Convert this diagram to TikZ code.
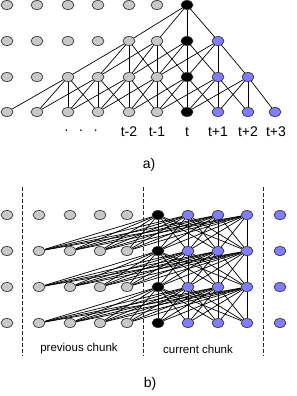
\documentclass[tikz,border=0pt]{standalone}
\usepackage{fontspec}
\setmainfont{Liberation Sans}
\usetikzlibrary{shapes.geometric}
\definecolor{ngray}{HTML}{C8C8C8}
\definecolor{nblue}{HTML}{7F7FFF}
\pgfdeclarelayer{bg}
\pgfsetlayers{bg,main}
\begin{document}
\begin{tikzpicture}[x=1pt,y=-1pt,
  nd/.style={ellipse, draw=black!85, line width=0.6pt, minimum width=12pt, minimum height=9pt, inner sep=0pt},
  edge/.style={draw=black, line width=0.7pt},
  sep/.style={draw=black!85, line width=0.8pt, dash pattern=on 4pt off 2pt},
  lbl/.style={font=\fontsize{14}{16}\selectfont, inner sep=0pt},
  chunklbl/.style={font=\fontsize{11.5}{13}\selectfont, inner sep=0pt}]
\useasboundingbox (0,0) rectangle (297,396);

% ---------- part a) ----------
\foreach \j/\y/\n in {1/5/6, 2/41/7, 3/77/8, 4/112/9} {
  \foreach \i/\x in {0/7,1/37,2/68,3/98,4/129,5/157,6/187,7/218,8/248,9/275} {
    \ifnum\i>\n\relax\else
      \ifnum\i<6 \def\f{ngray}\else\ifnum\i=6 \def\f{black}\else\def\f{nblue}\fi\fi
      \node[nd, fill=\f] (a\i-\j) at (\x,\y) {};
    \fi
  }
}
\begin{pgfonlayer}{bg}
\foreach \j/\lo/\hi in {1/6/6, 2/4/7, 3/2/8} {
  \pgfmathtruncatemacro\k{\j+1}
  \foreach \i in {\lo,...,\hi} {
    \foreach \d in {-2,-1,0,1} {
      \pgfmathtruncatemacro\t{\i+\d}
      \draw[edge] (a\i-\j) -- (a\t-\k);
    }
  }
}
\end{pgfonlayer}

\node[lbl] (ldots) at (81,132) {·\hspace{10pt}·\hspace{10pt}·};
\node[lbl] (lm2) at (129,132) {t-2};
\node[lbl] (lm1) at (157,132) {t-1};
\node[lbl] (l0) at (187,132) {t};
\node[lbl] (lp1) at (218,132) {t+1};
\node[lbl] (lp2) at (248,132) {t+2};
\node[lbl] (lp3) at (276,132) {t+3};
\node[lbl] (capa) at (149,165) {a)};

% ---------- part b) ----------
\foreach \j/\y in {1/215, 2/251, 3/287, 4/323} {
  \foreach \i/\x in {0/7,1/39,2/70,3/100,4/127,5/158,6/188,7/218,8/247,9/280} {
    \ifnum\i<5 \def\f{ngray}\else\ifnum\i=5 \def\f{black}\else\def\f{nblue}\fi\fi
    \node[nd, fill=\f] (b\i-\j) at (\x,\y) {};
  }
}
\begin{pgfonlayer}{bg}
\foreach \j in {1,2,3} {
  \pgfmathtruncatemacro\k{\j+1}
  \foreach \i in {5,6,7,8} {
    \foreach \t in {1,...,8} {
      \draw[edge] (b\i-\j) -- (b\t-\k);
    }
  }
}
\end{pgfonlayer}

\coordinate (s1t) at (22,187); \coordinate (s1b) at (22,356);
\coordinate (s2t) at (143,187); \coordinate (s2b) at (143,356);
\coordinate (s3t) at (263,187); \coordinate (s3b) at (263,356);
\draw[sep] (s1t) -- (s1b);
\draw[sep] (s2t) -- (s2b);
\draw[sep] (s3t) -- (s3b);

\node[chunklbl] (prev) at (79,349) {previous chunk};
\node[chunklbl] (curr) at (198,349) {current chunk};
\node[lbl] (capb) at (150,384) {b)};
\end{tikzpicture}
\end{document}
